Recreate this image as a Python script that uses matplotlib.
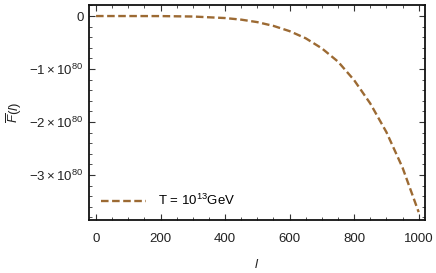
import matplotlib
matplotlib.use("Agg")
import matplotlib.pyplot as plt
from matplotlib.ticker import MultipleLocator, FixedLocator, FixedFormatter
import numpy as np

plt.rcParams['font.family'] = ['Liberation Sans', 'DejaVu Sans']
plt.rcParams['mathtext.fontset'] = 'custom'
plt.rcParams['mathtext.rm'] = 'Liberation Sans'
plt.rcParams['mathtext.it'] = 'Liberation Sans:italic'
plt.rcParams['mathtext.bf'] = 'Liberation Sans:bold'

# data (F in units of 1e80)
l_vals = [0, 100, 200, 300, 400, 450, 500, 550, 600, 650, 700, 750, 800, 850, 900, 950, 1000]
F_vals = [0.0, -0.0001, -0.001, -0.009, -0.038, -0.068, -0.115, -0.186, -0.285, -0.42, -0.61, -0.86, -1.21, -1.65, -2.19, -2.86, -3.70]
legend_label = r'T = 10$^{13}$GeV'
y_ticks = [0, -1, -2, -3]
y_ticklabels = ['0', r'$-1\times10^{80}$', r'$-2\times10^{80}$', r'$-3\times10^{80}$']
x_ticks = [0, 200, 400, 600, 800, 1000]

scale = 1e80
fig = plt.figure(figsize=(4.36, 2.73), dpi=100)
ax = fig.add_axes([0.204, 0.194, 0.771, 0.788])

ax.plot(l_vals, np.array(F_vals) * scale, color='#9C6A33', lw=1.7,
        ls=(0, (3.2, 1.5)), label=legend_label)

ax.set_xlim(-22, 1020)
ax.set_ylim(-3.85e80, 0.21e80)

ax.xaxis.set_major_locator(FixedLocator(x_ticks))
ax.xaxis.set_minor_locator(MultipleLocator(50))
ax.yaxis.set_major_locator(FixedLocator([v * scale for v in y_ticks]))
ax.yaxis.set_major_formatter(FixedFormatter(y_ticklabels))
ax.yaxis.set_minor_locator(FixedLocator([v * scale for v in np.arange(-3.8, 0.21, 0.2)]))

ax.tick_params(which='both', direction='in', top=True, right=True, color='#333333',
               labelsize=9.5, labelcolor='#222222')
ax.tick_params(which='major', length=4, width=0.8)
ax.tick_params(axis='x', which='major', pad=9)
ax.tick_params(axis='y', which='major', pad=4)
ax.tick_params(which='minor', length=2.2, width=0.6)
for s in ax.spines.values():
    s.set_linewidth(1.3)
    s.set_color('#111111')

ax.set_xlabel(r'$l$', fontsize=9.5, color='#222222', labelpad=10)
ax.set_ylabel(r'$\overline{F}(l)$', fontsize=9.5, color='#222222', labelpad=4)

leg = ax.legend(loc='lower left', frameon=False, fontsize=9.5, handlelength=3.4,
                borderaxespad=0.5, handletextpad=0.9)

fig.savefig('out.png', dpi=100)
